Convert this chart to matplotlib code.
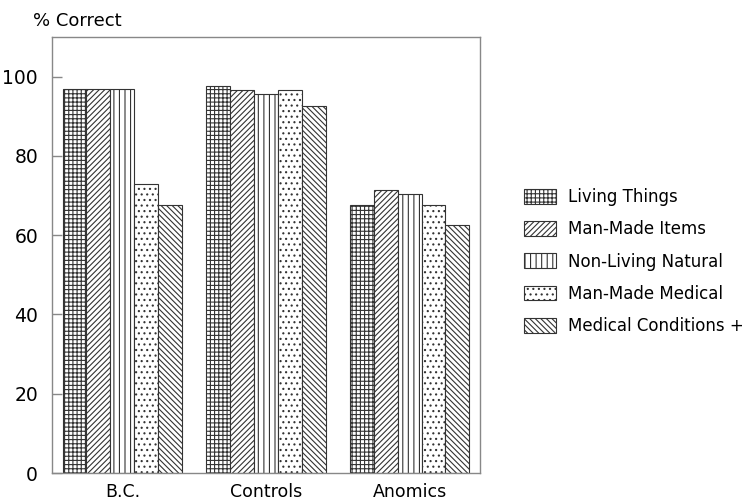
import numpy as np
import matplotlib.pyplot as plt
from matplotlib.patches import Patch

plt.rcParams['font.family'] = ['DejaVu Sans']
plt.rcParams['hatch.linewidth'] = 0.8

groups = ["B.C.", "Controls", "Anomics"]
categories = ["Living Things", "Man-Made Items", "Non-Living Natural",
              "Man-Made Medical", "Medical Conditions +"]
values = {
    "Living Things":        [97, 97.7, 67.5],
    "Man-Made Items":       [97, 96.7, 71.5],
    "Non-Living Natural":   [97, 95.7, 70.5],
    "Man-Made Medical":     [72.8, 96.7, 67.5],
    "Medical Conditions +": [67.5, 92.7, 62.5],
}
hatches = ["++++", "//////", "|||", "...", "\\\\\\\\\\\\"]

fig = plt.figure(figsize=(7.51, 5.03), dpi=100)
ax = fig.add_axes([0.0692, 0.0596, 0.5699, 0.8668])

x = np.arange(len(groups))
w = 1 / 6
for k, cat in enumerate(categories):
    ax.bar(x - 2 * w + k * w, values[cat], width=w, color="white",
           edgecolor="#333333", hatch=hatches[k], linewidth=0.8)

ax.set_xlim(-0.49, 2.49)
ax.set_ylim(0, 110)
ax.set_yticks([0, 20, 40, 60, 80, 100])
ax.set_xticks(x)
ax.set_xticklabels(groups, fontsize=12.5)
ax.tick_params(axis="x", length=0, pad=7)
ax.tick_params(axis="y", direction="in", length=7, width=1, color="#888888",
               labelsize=13.5, pad=10)
for s in ax.spines.values():
    s.set_color("#888888")
    s.set_linewidth(1)

fig.text(0.044, 0.958, "% Correct", fontsize=13, va="center")

handles = [Patch(facecolor="white", edgecolor="#333333", hatch=h, linewidth=0.8)
           for h in hatches]
fig.legend(handles, categories, loc="center left", bbox_to_anchor=(0.678, 0.48),
           frameon=False, fontsize=12, handlelength=1.9, handleheight=1.0,
           labelspacing=0.85, handletextpad=0.7)

fig.savefig("out.png", dpi=100)
